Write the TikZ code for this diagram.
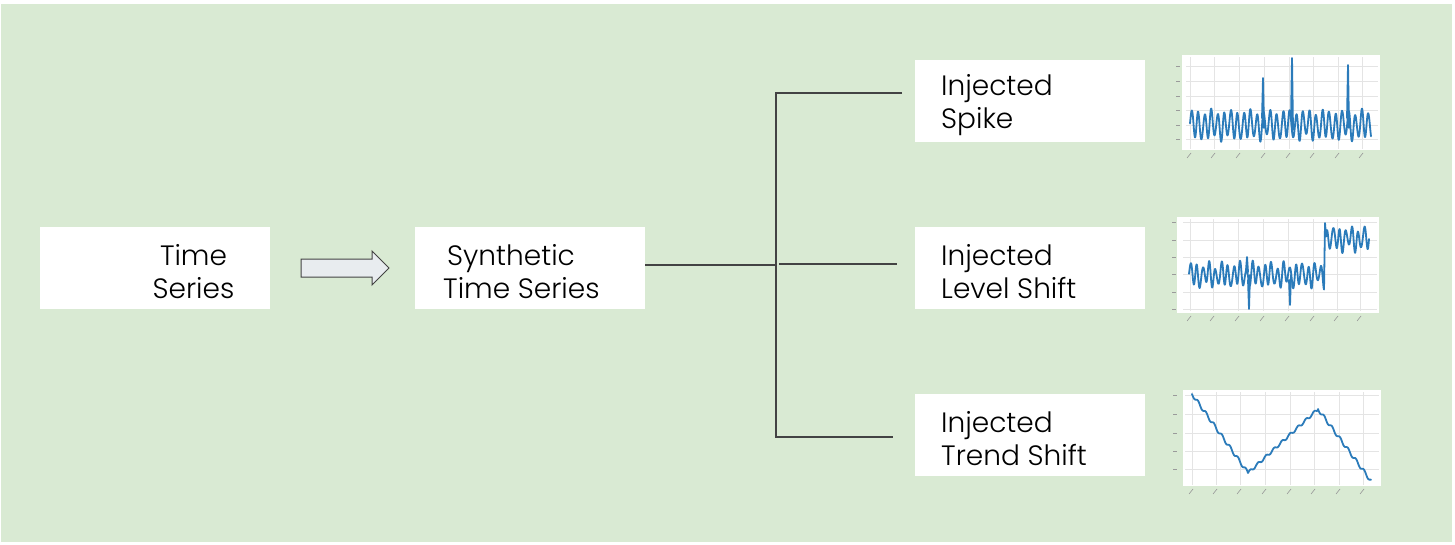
\documentclass[tikz,border=0pt]{standalone}
\usepackage{fontspec}
\setmainfont{Poppins}[UprightFont=* Light]
\definecolor{bggreen}{HTML}{D9EAD3}
\definecolor{linegray}{HTML}{434343}
\definecolor{arrowfill}{HTML}{E8ECEF}
\definecolor{plotblue}{HTML}{2B7BBA}
\definecolor{gridgray}{HTML}{E4E4E4}
\definecolor{tickgray}{HTML}{9A9A9A}
\tikzset{
  box/.style={fill=white, draw=none, minimum width=230pt, minimum height=82pt, inner sep=0pt},
  lbl/.style={font=\fontsize{28}{33}\selectfont, inner sep=0pt},
  conn/.style={draw=linegray, line width=1.1pt},
  gridline/.style={draw=gridgray, line width=0.8pt},
  series/.style={draw=plotblue, line width=1.8pt, line join=round, line cap=round},
  tickmark/.style={draw=tickgray, line width=0.6pt},
}
\begin{document}
\begin{tikzpicture}[x=1pt, y=-1pt]
\useasboundingbox (0,0) rectangle (1455,544);
\fill[bggreen] (1,4) rectangle (1452,542);

% boxes
\node[box] (ts) at (155,268) {};
\node[lbl, align=center] (tstext) at (193.5,272) {Time\\Series};
\node[box] (syn) at (530,268) {};
\node[lbl, align=left, anchor=west] (syntext) at (443,272) {\hspace*{4pt}Synthetic\\Time Series};
\node[box] (spike) at (1030,101) {};
\node[lbl, align=left, anchor=west] (spiketext) at (941,105) {Injected\\Spike};
\node[box] (level) at (1030,268) {};
\node[lbl, align=left, anchor=west] (leveltext) at (941,272) {Injected\\Level Shift};
\node[box] (trend) at (1030,435) {};
\node[lbl, align=left, anchor=west] (trendtext) at (941,439) {Injected\\Trend Shift};

% hollow arrow
\draw[linegray, fill=arrowfill, line width=1pt, line join=miter]
  (301,259) -- (372,259) -- (372,251) -- (389,268) -- (372,285) -- (372,277) -- (301,277) -- cycle;

% connectors
\coordinate (jn) at (776,265);
\coordinate (jtop) at (776,93);
\coordinate (jbot) at (776,437);
\coordinate (etop) at (902,93);
\coordinate (emid) at (897,264);
\coordinate (ebot) at (893,437);
\coordinate (jmid) at (779,264);
\draw[conn, line width=2pt] (syn.east |- jn) -- (jn);
\draw[conn] (etop) -- (jtop) -- (jbot) -- (ebot);
\draw[conn] (jmid) -- (emid);

% chart 1: spikes
\fill[white] (1182,55) rectangle (1380,150);
\foreach \gx in {1190,1214,1239,1264,1289,1313,1338,1362}
  {\draw[gridline] (\gx,57) -- (\gx,149);
   \draw[tickmark] (\gx-3,158) -- (\gx+1,153);}
\foreach \gy in {66,81,96,110,125,139}
  {\draw[gridline] (1186,\gy) -- (1378,\gy);
   \draw[tickmark] (1176,\gy) -- (1180,\gy);}
\draw[series] plot[domain=0:181, samples=600]
  ({1190+\x},{125-13*sin(55*\x)-2.5*sin(19*\x+40)+1.5*sin(83*\x)});
\draw[series] (1262,118) -- (1263,78) -- (1264,128);
\draw[series] (1291,118) -- (1292,58) -- (1293,130);
\draw[series] (1347,118) -- (1348,65) -- (1349,128);

% chart 2: level shift
\fill[white] (1177,217) rectangle (1379,313);
\foreach \gx in {1190,1213,1238,1263,1288,1313,1337,1360}
  {\draw[gridline] (\gx,219) -- (\gx,311);
   \draw[tickmark] (\gx-3,321) -- (\gx+1,316);}
\foreach \gy in {222,240,257,274,292,309}
  {\draw[gridline] (1183,\gy) -- (1377,\gy);
   \draw[tickmark] (1172,\gy) -- (1176,\gy);}
\draw[series] plot[domain=0:135, samples=450]
  ({1189+\x},{275-10*sin(58*\x)-3*sin(23*\x+30)+2*sin(83*\x+10)})
  -- (1325,223)
  -- plot[domain=137:180, samples=150]
  ({1189+\x},{239-10*sin(58*\x)-3*sin(23*\x)+2*sin(83*\x)});
\draw[series] (1248,280) -- (1249,309) -- (1250,275);
\draw[series] (1289,280) -- (1290,305) -- (1291,275);
\draw[series] (1246,270) -- (1247,257) -- (1248,272);

% chart 3: trend shift
\fill[white] (1183,390) rectangle (1381,486);
\foreach \gx in {1192,1216,1240,1265,1290,1314,1339,1363}
  {\draw[gridline] (\gx,392) -- (\gx,485);
   \draw[tickmark] (\gx-3,494) -- (\gx+1,489);}
\foreach \gy in {395,414,433,451,469}
  {\draw[gridline] (1185,\gy) -- (1379,\gy);
   \draw[tickmark] (1173,\gy) -- (1177,\gy);}
\draw[series] plot[domain=0:56, samples=120]
  ({1192+\x},{394+\x*79/56+1.8*sin(45*\x)})
  -- plot[domain=0:70, samples=150]
  ({1248+\x},{473-\x*64/70-1.4*sin(45*\x)})
  -- plot[domain=0:53, samples=120]
  ({1318+\x},{409+\x*72/53+1.8*sin(45*\x)});
\end{tikzpicture}
\end{document}
